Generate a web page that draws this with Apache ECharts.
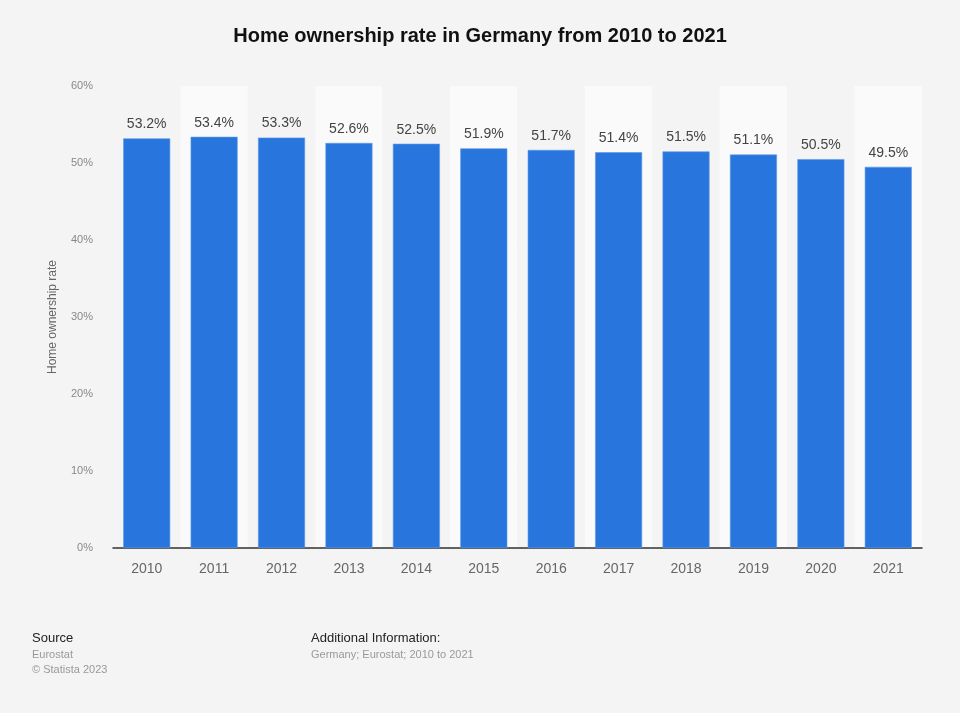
<!DOCTYPE html>
<html><head><meta charset="utf-8">
<script src="https://cdn.jsdelivr.net/npm/echarts@6/dist/echarts.min.js"></script>
<style>html,body{margin:0;padding:0;background:#f4f4f4;}#c{width:960px;height:713px;}</style>
</head><body><div id="c"></div>
<script>
const categories = ['2010','2011','2012','2013','2014','2015','2016','2017','2018','2019','2020','2021'];
const values = [53.2,53.4,53.3,52.6,52.5,51.9,51.7,51.4,51.5,51.1,50.5,49.5];
const yTicks = [0,10,20,30,40,50,60];
const chart = echarts.init(document.getElementById('c'), null, {renderer:'canvas'});
chart.setOption({
  backgroundColor:'#f4f4f4',
  animation:false,
  title:{text:'Home ownership rate in Germany from 2010 to 2021',left:'center',top:21,
    textStyle:{fontFamily:'Liberation Sans, Arial, sans-serif',fontSize:20,fontWeight:'bold',color:'#111'}},
  grid:{left:113,right:38,top:86,bottom:165},
  xAxis:{type:'category',data:categories,
    axisLine:{lineStyle:{color:'#333',width:1.5}},axisTick:{show:false},
    axisLabel:{color:'#666',fontSize:14,margin:14,fontFamily:'Liberation Sans, Arial, sans-serif'},
    splitArea:{show:true,areaStyle:{color:['rgba(244,244,244,1)','#fafafa']}}},
  yAxis:{type:'value',min:yTicks[0],max:yTicks[yTicks.length-1],interval:10,
    name:'Home ownership rate',nameLocation:'middle',nameGap:54,
    nameTextStyle:{color:'#666',fontSize:12,fontFamily:'Liberation Sans, Arial, sans-serif'},
    axisLabel:{formatter:'{value}%',color:'#888',fontSize:11,margin:20,fontFamily:'Liberation Sans, Arial, sans-serif'},
    axisLine:{show:false},axisTick:{show:false},
    splitLine:{lineStyle:{color:'#ccc',type:[1,3]}}},
  series:[{type:'bar',data:values,barWidth:47,
    itemStyle:{color:'#2876dd',borderColor:'#5d9ae8',borderWidth:0.6},
    label:{show:true,position:'top',distance:7,formatter:p=>p.value.toFixed(1)+'%',
      color:'#444',fontSize:14,fontFamily:'Liberation Sans, Arial, sans-serif'}}],
  graphic:[
    {type:'text',left:32,top:632,style:{text:'Source',fill:'#222',font:'13px Liberation Sans, Arial, sans-serif'}},
    {type:'text',left:32,top:649,style:{text:'Eurostat',fill:'#999',font:'11px Liberation Sans, Arial, sans-serif'}},
    {type:'text',left:32,top:664,style:{text:'© Statista 2023',fill:'#999',font:'11px Liberation Sans, Arial, sans-serif'}},
    {type:'text',left:311,top:632,style:{text:'Additional Information:',fill:'#222',font:'13px Liberation Sans, Arial, sans-serif'}},
    {type:'text',left:311,top:649,style:{text:'Germany; Eurostat; 2010 to 2021',fill:'#999',font:'11px Liberation Sans, Arial, sans-serif'}}
  ]
});
</script></body></html>
